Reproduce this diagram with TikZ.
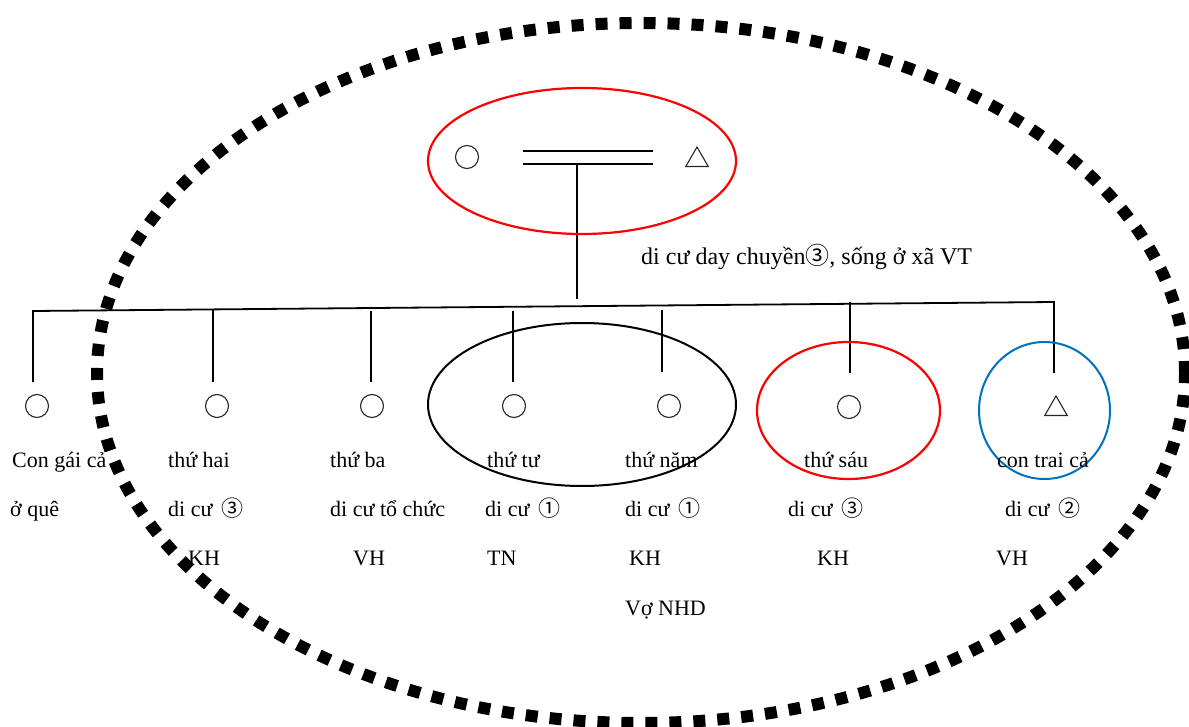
\documentclass[tikz,border=0pt]{standalone}
\usepackage{fontspec}
\setmainfont{Liberation Serif}
\newfontfamily\sym{Noto Sans CJK JP}
\usetikzlibrary{shapes.geometric}
\begin{document}
\begin{tikzpicture}[x=1pt,y=-1pt,
  ln/.style={line width=1.8pt, black},
  fem/.style={circle, draw=black!85, line width=1.1pt, minimum size=23pt, inner sep=0pt},
  mal/.style={regular polygon, regular polygon sides=3, draw=black!85, line width=1.1pt, minimum size=26pt, inner sep=0pt},
  lbl/.style={anchor=base west, inner sep=0pt, font=\fontsize{22}{26}\selectfont},
  grp/.style={line width=2pt},
  dots/.style={line width=12pt, dash pattern=on 12pt off 12pt}
]
\useasboundingbox (0,0) rectangle (1189,727);

% parents
\node[fem] (w) at (467,157) {};
\node[mal] (h) at (697,160) {};
\coordinate (m1a) at (523,151); \coordinate (m1b) at (653,151);
\coordinate (m2a) at (523,164); \coordinate (m2b) at (653,164);
\draw[ln] (m1a) -- (m1b);
\draw[ln] (m2a) -- (m2b);
\coordinate (d1) at (577,165); \coordinate (d2) at (577,299);
\draw[ln] (d1) -- (d2);
\draw[red, line width=2.2pt] (582,161) ellipse [x radius=154pt, y radius=73pt];

\node[lbl, font=\fontsize{24}{28}\selectfont] (top) at (641,265) {di cư day chuyền{\sym ③}, sống ở xã VT};

% children
\node[fem] (k1) at (37,406) {};
\node[fem] (k2) at (217,406) {};
\node[fem] (k3) at (372,406) {};
\node[fem] (k4) at (514,406) {};
\node[fem] (k5) at (669,406) {};
\node[fem] (k6) at (849,407) {};
\node[mal] (k7) at (1056,409) {};

% sibling line
\coordinate (s1) at (33,311);
\coordinate (s7) at (1054,302);
\coordinate (b1) at (33,382);
\coordinate (b7) at (1054,373);
\draw[ln] (b1) -- (s1) -- (s7) -- (b7);
\coordinate (t2) at (213,310); \coordinate (u2) at (213,382);
\coordinate (t3) at (371,311); \coordinate (u3) at (371,382);
\coordinate (t4) at (513,311); \coordinate (u4) at (513,382);
\coordinate (t5) at (662,310); \coordinate (u5) at (662,372);
\coordinate (t6) at (850,302); \coordinate (u6) at (850,373);
\draw[ln] (t2) -- (u2);
\draw[ln] (t3) -- (u3);
\draw[ln] (t4) -- (u4);
\draw[ln] (t5) -- (u5);
\draw[ln] (t6) -- (u6);

% group ellipses
\draw[black, line width=2pt] (582,404.5) ellipse [x radius=154pt, y radius=81.5pt];
\draw[red, line width=2.2pt] (848.5,410.5) ellipse [x radius=91.5pt, y radius=68.5pt];
\draw[color={rgb,255:red,0;green,112;blue,192}, line width=2pt] (1044.5,410.5) ellipse [x radius=65.5pt, y radius=68.5pt];

% labels
\node[lbl] (a1) at (12,467) {Con gái cả};
\node[lbl] (a2) at (10,516) {ở quê};
\node[lbl] (b21) at (168,467) {thứ hai};
\node[lbl] (b22) at (168,516) {di cư\hspace{0.4em}{\sym ③}};
\node[lbl] (b23) at (188,565) {KH};
\node[lbl] (c1) at (330,467) {thứ ba};
\node[lbl] (c2) at (330,516) {di cư tổ chức};
\node[lbl] (c3) at (353,565) {VH};
\node[lbl] (d41) at (487,467) {thứ tư};
\node[lbl] (d42) at (485,516) {di cư\hspace{0.4em}{\sym ①}};
\node[lbl] (d43) at (487,565) {TN};
\node[lbl] (e1) at (625,467) {thứ năm};
\node[lbl] (e2) at (625,516) {di cư\hspace{0.4em}{\sym ①}};
\node[lbl] (e3) at (629,565) {KH};
\node[lbl] (e4) at (625,615) {Vợ NHD};
\node[lbl] (f1) at (804,467) {thứ sáu};
\node[lbl] (f2) at (788,516) {di cư\hspace{0.4em}{\sym ③}};
\node[lbl] (f3) at (817,565) {KH};
\node[lbl] (g1) at (997,467) {con trai cả};
\node[lbl] (g2) at (1005,516) {di cư\hspace{0.4em}{\sym ②}};
\node[lbl] (g3) at (996,565) {VH};

% outer dotted ellipse
\draw[dots] (641,373) ellipse [x radius=544pt, y radius=350pt];
\end{tikzpicture}
\end{document}
